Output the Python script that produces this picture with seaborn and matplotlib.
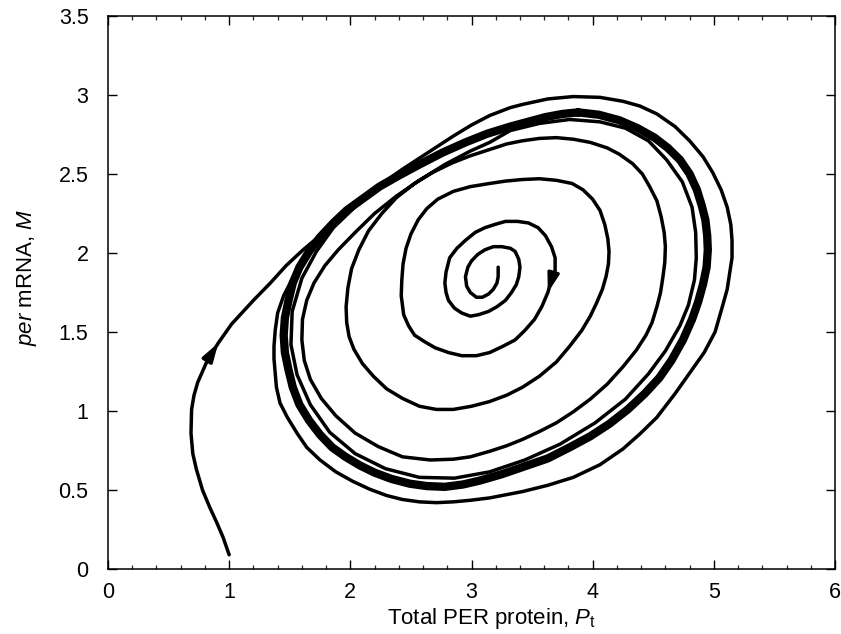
import matplotlib
matplotlib.use("Agg")
import matplotlib.pyplot as plt
from matplotlib.ticker import MultipleLocator
import pandas as pd
import seaborn as sns

# Trajectory starting from low per mRNA, approaching the limit cycle from outside
A_P = [1.00, 0.95, 0.90, 0.84, 0.78, 0.73, 0.70, 0.685, 0.69, 0.71, 0.74, 0.78, 0.82, 0.91,
       1.02, 1.20, 1.34, 1.47, 1.61, 1.75, 1.89, 2.02, 2.16, 2.30, 2.43, 2.57, 2.71, 2.85,
       3.00, 3.15, 3.32, 3.42, 3.63, 3.84, 4.06, 4.25, 4.39, 4.53, 4.68, 4.80, 4.91, 4.99,
       5.06, 5.11, 5.14, 5.15, 5.15, 5.13, 5.11, 5.07, 5.01, 4.92, 4.80, 4.68, 4.53, 4.39,
       4.25, 4.06, 3.84, 3.63, 3.42, 3.15, 2.99, 2.85, 2.71, 2.57, 2.43, 2.30, 2.16, 2.02,
       1.88, 1.75, 1.64, 1.56, 1.48, 1.42, 1.39, 1.38, 1.37, 1.37, 1.38, 1.40, 1.45, 1.53,
       1.63, 1.75, 1.96, 2.24]
A_M = [0.09, 0.20, 0.29, 0.39, 0.50, 0.63, 0.73, 0.86, 1.01, 1.10, 1.18, 1.25, 1.32, 1.43,
       1.55, 1.70, 1.81, 1.92, 2.02, 2.11, 2.21, 2.29, 2.37, 2.46, 2.53, 2.60, 2.67, 2.74,
       2.81, 2.87, 2.92, 2.94, 2.975, 2.99, 2.985, 2.96, 2.93, 2.88, 2.80, 2.71, 2.61, 2.51,
       2.40, 2.29, 2.18, 2.08, 1.97, 1.87, 1.77, 1.66, 1.50, 1.37, 1.24, 1.11, 0.96, 0.855,
       0.76, 0.66, 0.58, 0.53, 0.49, 0.45, 0.435, 0.425, 0.42, 0.425, 0.44, 0.465, 0.505, 0.555,
       0.615, 0.69, 0.77, 0.86, 0.96, 1.05, 1.15, 1.24, 1.33, 1.41, 1.51, 1.62, 1.73, 1.85,
       1.96, 2.08, 2.25, 2.41]
A_ARROW = 13

# Trajectory starting near the unstable steady state, spiralling outward
B_P = [3.22, 3.22, 3.21, 3.18, 3.14, 3.09, 3.04, 2.99, 2.96, 2.95, 2.97, 3.00, 3.05, 3.11,
       3.18, 3.25, 3.32, 3.36, 3.39, 3.40, 3.39, 3.37, 3.33, 3.28, 3.21, 3.14, 3.06, 2.99,
       2.92, 2.86, 2.81, 2.79, 2.78, 2.79, 2.82, 2.88, 2.95, 3.03, 3.11, 3.19, 3.28, 3.38,
       3.47, 3.55, 3.61, 3.66, 3.69, 3.69, 3.66, 3.63, 3.58, 3.52, 3.44, 3.36, 3.26, 3.15,
       3.04, 2.92, 2.81, 2.70, 2.61, 2.53, 2.48, 2.44, 2.43, 2.42, 2.425, 2.435, 2.46, 2.50,
       2.56, 2.63, 2.72, 2.85, 2.99, 3.15, 3.28, 3.42, 3.56, 3.70, 3.83, 3.92, 4.00, 4.06,
       4.10, 4.125, 4.135, 4.13, 4.11, 4.08, 4.03, 3.98, 3.91, 3.81, 3.70, 3.56, 3.42, 3.29,
       3.15, 3.00, 2.85, 2.71, 2.57, 2.43, 2.30, 2.19, 2.10, 2.03, 1.99, 1.97, 1.965, 1.98,
       2.01, 2.07, 2.15, 2.26, 2.38, 2.53, 2.68, 2.84, 2.99, 3.15, 3.29, 3.42, 3.56, 3.70,
       3.84, 3.98, 4.12, 4.22, 4.33, 4.41, 4.47, 4.53, 4.565, 4.59, 4.60, 4.595, 4.58, 4.56,
       4.53, 4.49, 4.44, 4.36, 4.25, 4.12, 3.98, 3.84, 3.70, 3.56, 3.42, 3.29, 3.15, 2.99,
       2.85, 2.66, 2.43, 2.23, 2.04, 1.88, 1.76, 1.67, 1.62, 1.60, 1.605, 1.64, 1.70, 1.79,
       1.90, 2.04, 2.20, 2.38, 2.57, 2.78, 2.99, 3.15, 3.32, 3.56, 3.81, 4.06, 4.27, 4.46,
       4.61, 4.74, 4.82, 4.85, 4.855, 4.84, 4.79, 4.72, 4.60, 4.46, 4.27, 4.02, 3.73, 3.44,
       3.15, 2.86, 2.57, 2.29, 2.04, 1.83, 1.67, 1.56, 1.51, 1.52, 1.60, 1.72, 1.86, 2.05,
       2.30]
B_M = [1.91, 1.85, 1.81, 1.77, 1.74, 1.72, 1.72, 1.75, 1.79, 1.85, 1.91, 1.95, 1.99, 2.02,
       2.04, 2.04, 2.03, 2.01, 1.96, 1.91, 1.85, 1.80, 1.75, 1.70, 1.66, 1.63, 1.61, 1.60,
       1.62, 1.65, 1.70, 1.75, 1.81, 1.88, 1.97, 2.03, 2.08, 2.13, 2.16, 2.18, 2.20, 2.20,
       2.19, 2.16, 2.11, 2.04, 1.97, 1.89, 1.83, 1.75, 1.66, 1.58, 1.51, 1.45, 1.41, 1.37,
       1.35, 1.35, 1.37, 1.40, 1.44, 1.48, 1.54, 1.61, 1.67, 1.73, 1.83, 1.93, 2.03, 2.12,
       2.21, 2.28, 2.34, 2.39, 2.42, 2.44, 2.455, 2.465, 2.47, 2.46, 2.44, 2.40, 2.34, 2.27,
       2.18, 2.09, 2.01, 1.93, 1.85, 1.77, 1.68, 1.60, 1.51, 1.41, 1.31, 1.22, 1.15, 1.10,
       1.06, 1.03, 1.01, 1.01, 1.03, 1.08, 1.14, 1.22, 1.30, 1.39, 1.47, 1.56, 1.66, 1.78,
       1.90, 2.02, 2.14, 2.25, 2.35, 2.44, 2.51, 2.57, 2.615, 2.655, 2.69, 2.71, 2.725, 2.73,
       2.72, 2.70, 2.665, 2.625, 2.565, 2.50, 2.42, 2.33, 2.23, 2.13, 2.04, 1.94, 1.85, 1.75,
       1.66, 1.56, 1.48, 1.385, 1.28, 1.17, 1.075, 0.995, 0.925, 0.87, 0.82, 0.78, 0.745, 0.71,
       0.695, 0.69, 0.71, 0.775, 0.86, 0.97, 1.08, 1.20, 1.32, 1.45, 1.58, 1.70, 1.81, 1.92,
       2.02, 2.13, 2.25, 2.36, 2.46, 2.56, 2.645, 2.70, 2.775, 2.82, 2.845, 2.83, 2.79, 2.71,
       2.59, 2.45, 2.29, 2.13, 1.97, 1.83, 1.67, 1.54, 1.38, 1.235, 1.075, 0.925, 0.79, 0.69,
       0.615, 0.575, 0.58, 0.635, 0.73, 0.865, 1.04, 1.23, 1.42, 1.63, 1.84, 2.01, 2.16, 2.30,
       2.44]
B_ARROW = 49

# Limit cycle on which both trajectories settle
LC_P = [3.88, 4.05, 4.22, 4.37, 4.51, 4.62, 4.72, 4.80, 4.86, 4.90, 4.93, 4.945, 4.95, 4.94,
        4.91, 4.87, 4.82, 4.745, 4.65, 4.55, 4.43, 4.29, 4.14, 3.98, 3.81, 3.63, 3.44, 3.25,
        3.07, 2.93, 2.78, 2.63, 2.49, 2.34, 2.20, 2.08, 1.96, 1.85, 1.75, 1.66, 1.58, 1.525,
        1.49, 1.46, 1.45, 1.46, 1.49, 1.525, 1.58, 1.66, 1.75, 1.86, 1.97, 2.24, 2.40, 2.57,
        2.76, 2.95, 3.13, 3.32, 3.61, 3.75, 3.88]
LC_M = [2.89, 2.875, 2.84, 2.79, 2.73, 2.665, 2.59, 2.50, 2.40, 2.30, 2.21, 2.11, 2.02, 1.91,
        1.80, 1.69, 1.58, 1.45, 1.32, 1.21, 1.11, 1.01, 0.92, 0.84, 0.77, 0.70, 0.65, 0.60,
        0.56, 0.535, 0.52, 0.525, 0.54, 0.57, 0.61, 0.655, 0.71, 0.77, 0.85, 0.94, 1.04, 1.15,
        1.26, 1.37, 1.48, 1.59, 1.70, 1.81, 1.91, 2.01, 2.10, 2.19, 2.27, 2.42, 2.49, 2.56,
        2.635, 2.70, 2.755, 2.80, 2.86, 2.88, 2.89]

X_TICKS = [0, 1, 2, 3, 4, 5, 6]
Y_TICKS = [0, 0.5, 1, 1.5, 2, 2.5, 3, 3.5]
Y_TICK_LABELS = ["0", "0.5", "1", "1.5", "2", "2.5", "3", "3.5"]

sns.set_theme(style="ticks")
plt.rcParams["font.family"] = ["Liberation Sans", "DejaVu Sans"]
plt.rcParams["mathtext.fontset"] = "custom"
plt.rcParams["mathtext.rm"] = "Liberation Sans"
plt.rcParams["mathtext.it"] = "Liberation Sans:italic"

fig = plt.figure(figsize=(8.41, 6.34), dpi=100)
ax = fig.add_axes([0.1284, 0.1025, 0.8645, 0.8723])

line_kw = dict(color="black", sort=False, estimator=None,
               solid_joinstyle="round", solid_capstyle="round")

lc = pd.DataFrame({"P": LC_P, "M": LC_M})
traj_a = pd.DataFrame({"P": A_P, "M": A_M})
traj_b = pd.DataFrame({"P": B_P, "M": B_M})

sns.lineplot(data=lc, x="P", y="M", ax=ax, lw=6.0, **line_kw)
sns.lineplot(data=traj_a, x="P", y="M", ax=ax, lw=2.5, **line_kw)
sns.lineplot(data=traj_b, x="P", y="M", ax=ax, lw=2.5, **line_kw)

# Direction arrows along each trajectory
arrow_kw = dict(arrowstyle="-|>,head_length=0.9,head_width=0.28", color="black",
                lw=2.5, shrinkA=0, shrinkB=0, mutation_scale=12)
ax.annotate("", xy=(A_P[A_ARROW], A_M[A_ARROW]),
            xytext=(A_P[A_ARROW - 1], A_M[A_ARROW - 1]), arrowprops=arrow_kw)
ax.annotate("", xy=(B_P[B_ARROW], B_M[B_ARROW]),
            xytext=(B_P[B_ARROW - 1], B_M[B_ARROW - 1]), arrowprops=arrow_kw)

ax.set_xlim(0, 6)
ax.set_ylim(0, 3.5)
ax.set_xticks(X_TICKS)
ax.set_xticklabels([str(t) for t in X_TICKS])
ax.set_yticks(Y_TICKS)
ax.set_yticklabels(Y_TICK_LABELS)
ax.xaxis.set_minor_locator(MultipleLocator(0.2))

for side in ["top", "right", "bottom", "left"]:
    ax.spines[side].set_visible(True)
    ax.spines[side].set_linewidth(1.1)
    ax.spines[side].set_color("black")

ax.tick_params(axis="x", which="major", direction="in", top=True, bottom=True,
               length=6.5, width=1.0, labelsize=15.5, pad=9.5, colors="black")
ax.tick_params(axis="x", which="minor", direction="in", top=True, bottom=True,
               length=3.2, width=0.9)
ax.tick_params(axis="y", which="major", direction="in", left=True, right=True,
               length=6.5, width=1.0, labelsize=15.5, pad=14, colors="black")

ax.set_xlabel(r"Total PER protein, $P_{\mathrm{t}}$", fontsize=16, color="black")
ax.set_ylabel(r"$\mathit{per}$ mRNA, $\mathit{M}$", fontsize=16, color="black")
ax.xaxis.set_label_coords(0.528, -0.066)
ax.yaxis.set_label_coords(-0.095, 0.527)

ax.grid(False)
ax.set_facecolor("white")
fig.patch.set_facecolor("white")

fig.savefig("out.png", dpi=100)
